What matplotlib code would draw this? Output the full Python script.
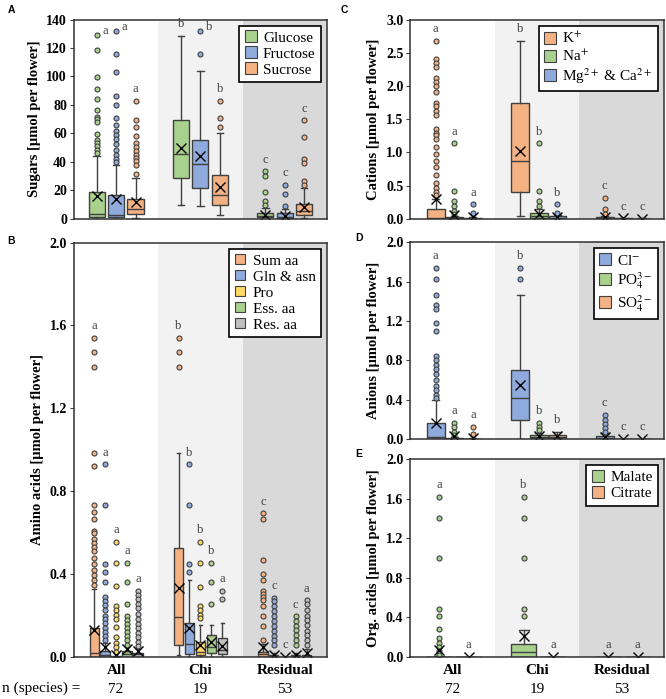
import matplotlib.pyplot as plt
from matplotlib.lines import Line2D

plt.rcParams['font.family'] = 'Liberation Serif'
plt.rcParams['mathtext.fontset'] = 'stix'

GREEN = '#a9d18e'
BLUE = '#8faadc'
ORANGE = '#f4b183'
YELLOW = '#ffd966'
GREY = '#bfbfbf'
EDGE = '#404040'

groups = ["All", "Chi", "Residual"]
n_species = [72, 19, 53]

# ---- A: sugars  (each list: [series][group All, Chi, Residual])
sugar_names = ["Glucose", "Fructose", "Sucrose"]
sugar_q1 = [[1.4, 29, 1.0], [1.4, 21.5, 0.5], [3.5, 9.4, 3.0]]
sugar_med = [[3.7, 45.2, 2.3], [3.0, 38.2, 1.4], [7.0, 16.6, 5.4]]
sugar_q3 = [[18.7, 69.3, 4.2], [17.0, 55.7, 4.0], [14.0, 30.7, 10.5]]
sugar_lo = [[0, 9.6, 0], [0, 8.9, 0], [0.5, 3.0, 0.5]]
sugar_hi = [[44, 128.8, 7.5], [38, 103.7, 7.0], [28.8, 60, 21.8]]
sugar_mean = [[16, 49.9, 3.0], [14, 44, 2.3], [12, 22.2, 8.4]]
sugar_fliers = [
    [[129, 118.4, 99.7, 91.2, 84.5, 76.6, 71.6, 70.0, 67.9, 59.7, 55.7, 53.4, 51, 48.2, 45.9],
     [], [33.5, 30, 19, 12.6, 9.6]],
    [[131.8, 115.9, 103, 86.2, 80.3, 70.9, 65.8, 62, 59.2, 56.2, 52.9, 48.2, 45, 42.1, 40],
     [131.8, 115.9], [23.9, 17.1, 8.9]],
    [[83.1, 69.3, 64.4, 58, 53, 50.3, 47.5, 45, 42.4, 40.3, 37.7, 31.8],
     [83, 71, 64.4], [69.3, 57.4, 41.7, 39.3, 26.9, 23.6]],
]
sugar_letters = [["a", "b", "c"], ["a", "b", "c"], ["a", "b", "c"]]

# ---- B: amino acids
aa_names = ["Sum aa", "Gln & asn", "Pro", "Ess. aa", "Res. aa"]
aa_q1 = [[0, 0.056, 0], [0, 0.016, 0], [0, 0.008, 0], [0, 0.02, 0], [0, 0.016, 0]]
aa_med = [[0.02, 0.193, 0.013], [0.01, 0.065, 0.004], [0, 0.025, 0], [0.013, 0.048, 0.003], [0.013, 0.035, 0.005]]
aa_q3 = [[0.14, 0.528, 0.024], [0.03, 0.165, 0.01], [0.005, 0.072, 0.002], [0.027, 0.105, 0.008], [0.02, 0.092, 0.012]]
aa_lo = [[0, 0.008, 0], [0, 0, 0], [0, 0, 0], [0, 0, 0], [0, 0, 0]]
aa_hi = [[0.33, 0.985, 0.065], [0.07, 0.37, 0.02], [0.005, 0.153, 0.002], [0.05, 0.153, 0.02], [0.04, 0.165, 0.04]]
aa_mean = [[0.13, 0.335, 0.048], [0.05, 0.14, 0.012], [0.01, 0.056, 0.002], [0.04, 0.072, 0.012], [0.03, 0.053, 0.02]]
aa_fliers = [
    [[1.54, 1.47, 1.40, 0.985, 0.92, 0.735, 0.70, 0.665, 0.61, 0.60, 0.57, 0.55, 0.53, 0.51, 0.48,
      0.45, 0.42, 0.395, 0.37, 0.35],
     [1.54, 1.47, 1.40],
     [0.694, 0.665, 0.47, 0.40, 0.37, 0.32, 0.306, 0.29, 0.277, 0.245, 0.20, 0.148, 0.08]],
    [[0.93, 0.735, 0.45, 0.41, 0.36, 0.29, 0.27, 0.25, 0.225, 0.20, 0.185, 0.165, 0.14, 0.12, 0.10, 0.08],
     [0.93, 0.735, 0.45, 0.41],
     [0.287, 0.27, 0.245, 0.222, 0.196, 0.174, 0.148, 0.126, 0.10, 0.08, 0.06]],
    [[0.555, 0.455, 0.345, 0.245, 0.225, 0.205, 0.185, 0.145, 0.095, 0.07, 0.05, 0.025],
     [0.555, 0.455, 0.34, 0.245, 0.225, 0.205, 0.19],
     []],
    [[0.455, 0.36, 0.255, 0.20, 0.18, 0.16, 0.14, 0.12, 0.10, 0.08, 0.06],
     [0.455, 0.36, 0.255],
     [0.196, 0.174, 0.148, 0.129, 0.105, 0.08, 0.06]],
    [[0.32, 0.30, 0.28, 0.255, 0.235, 0.21, 0.185, 0.16, 0.14, 0.118, 0.097, 0.072, 0.052],
     [0.32, 0.28],
     [0.274, 0.255, 0.229, 0.20, 0.177, 0.153, 0.126, 0.105, 0.08, 0.06]],
]
aa_letters = [["a", "b", "c"], ["a", "b", "c"], ["a", "b", "c"], ["a", "b", "c"], ["a", "a", "a"]]

# ---- C: cations
cat_names = ["K$^{+}$", "Na$^{+}$", "Mg$^{2+}$ & Ca$^{2+}$"]
cat_q1 = [[0, 0.41, 0], [0, 0.015, 0], [0, 0, 0]]
cat_med = [[0.005, 0.865, 0.01], [0.005, 0.04, 0.002], [0.003, 0.005, 0.001]]
cat_q3 = [[0.15, 1.745, 0.02], [0.02, 0.09, 0.005], [0.01, 0.04, 0.003]]
cat_lo = [[0, 0.04, 0], [0, 0, 0], [0, 0, 0]]
cat_hi = [[0.3, 2.68, 0.04], [0.04, 0.14, 0.01], [0.02, 0.05, 0.005]]
cat_mean = [[0.3, 1.02, 0.03], [0.05, 0.065, 0.005], [0.02, 0.02, 0.003]]
cat_fliers = [
    [[2.68, 2.40, 2.34, 2.29, 2.12, 2.06, 2.0, 1.91, 1.75, 1.70, 1.63, 1.56, 1.355, 1.295, 1.255, 1.2,
      1.08, 0.98, 0.865, 0.774, 0.66, 0.546, 0.47, 0.405, 0.354],
     [], [0.32, 0.14, 0.066]],
    [[1.14, 0.42, 0.27, 0.19, 0.116, 0.066], [1.14, 0.42, 0.27, 0.19], []],
    [[0.217, 0.09], [0.217, 0.09], []],
]
cat_letters = [["a", "b", "c"], ["a", "b", "c"], ["a", "b", "c"]]

# ---- D: anions
an_names = ["Cl$^{-}$", "PO$_4^{3-}$", "SO$_4^{2-}$"]
an_q1 = [[0, 0.196, 0], [0, 0.01, 0], [0, 0.01, 0]]
an_med = [[0.02, 0.423, 0.01], [0.003, 0.027, 0.001], [0, 0.027, 0.001]]
an_q3 = [[0.17, 0.704, 0.034], [0.01, 0.044, 0.003], [0.005, 0.044, 0.002]]
an_lo = [[0, 0, 0], [0, 0, 0], [0, 0, 0]]
an_hi = [[0.40, 1.465, 0.06], [0.02, 0.06, 0.005], [0.01, 0.078, 0.004]]
an_mean = [[0.17, 0.55, 0.025], [0.03, 0.035, 0.003], [0.015, 0.035, 0.003]]
an_fliers = [
    [[1.74, 1.63, 1.46, 1.36, 1.32, 1.18, 1.10, 0.846, 0.805, 0.755, 0.71, 0.66, 0.60, 0.545, 0.50,
      0.45, 0.416],
     [1.74, 1.63], [0.247, 0.2, 0.156, 0.11, 0.07]],
    [[0.17, 0.13, 0.078, 0.044], [0.17, 0.13, 0.09], []],
    [[0.13, 0.054], [], []],
]
an_letters = [["a", "b", "c"], ["a", "b", "c"], ["a", "b", "c"]]

# ---- E: organic acids
org_names = ["Malate", "Citrate"]
org_q1 = [[0, 0, 0], [0, 0, 0]]
org_med = [[0, 0.054, 0], [0, 0, 0]]
org_q3 = [[0.005, 0.13, 0.001], [0.002, 0.002, 0.002]]
org_lo = [[0, 0, 0], [0, 0, 0]]
org_hi = [[0.01, 0.275, 0.002], [0.003, 0.003, 0.003]]
org_mean = [[0.074, 0.21, 0.003], [0.002, 0.002, 0.002]]
org_fliers = [
    [[1.62, 1.41, 1.0, 0.487, 0.416, 0.285, 0.19, 0.14, 0.10, 0.057, 0.023],
     [1.62, 1.41, 1.0, 0.487, 0.416], []],
    [[], [], []],
]
org_letters = [["a", "b", "a"], ["a", "a", "a"]]


def draw_panel(ax, names, colors, q1, med, q3, lo, hi, mean, fliers, letters,
               offsets, width, ymax, step, fmt, ylabel, leg_ms):
    ax.axvspan(1, 2, color='#f2f2f2', zorder=0, lw=0)
    ax.axvspan(2, 3, color='#d9d9d9', zorder=0, lw=0)
    for i, name in enumerate(names):
        stats = []
        for g in range(3):
            stats.append(dict(q1=q1[i][g], med=med[i][g], q3=q3[i][g],
                              whislo=lo[i][g], whishi=hi[i][g], mean=mean[i][g],
                              fliers=fliers[i][g]))
        pos = [g + 0.5 + offsets[i] for g in range(3)]
        ax.bxp(stats, positions=pos, widths=width, patch_artist=True,
               showmeans=True, manage_ticks=False, capwidths=width * 0.4,
               boxprops=dict(facecolor=colors[i], edgecolor=EDGE, linewidth=1),
               medianprops=dict(color=EDGE, linewidth=1),
               whiskerprops=dict(color=EDGE, linewidth=1),
               capprops=dict(color=EDGE, linewidth=1),
               flierprops=dict(marker='o', markerfacecolor=colors[i], markeredgecolor=EDGE,
                               markersize=3.6, markeredgewidth=0.8),
               meanprops=dict(marker='x', markeredgecolor='black', markersize=7,
                              markeredgewidth=1))
        for g in range(3):
            fl = fliers[i][g]
            top = max([hi[i][g], q3[i][g], mean[i][g]] + fl)
            if fl and max(fl) > 0.9 * ymax:
                ax.annotate(letters[i][g], (pos[g], top), xytext=(4, 3),
                            textcoords='offset points', ha='left', va='center',
                            fontsize=9, color=EDGE)
            else:
                ax.annotate(letters[i][g], (pos[g], top), xytext=(0, 4),
                            textcoords='offset points', ha='center', va='bottom',
                            fontsize=9, color=EDGE)
    ax.set_xlim(0, 3)
    ax.set_ylim(0, ymax)
    ticks = [k * step for k in range(int(round(ymax / step)) + 1)]
    ax.set_yticks(ticks, [fmt.format(t) for t in ticks], fontweight='bold', fontsize=10)
    ax.set_xticks([])
    ax.tick_params(axis='y', length=3, width=0.8, color=EDGE, pad=2)
    ax.set_ylabel(ylabel, fontweight='bold', fontsize=10.5, labelpad=4)
    for s in ax.spines.values():
        s.set_color('#303030')
        s.set_linewidth(1.1)
    handles = [Line2D([], [], ls='', marker='s', markersize=leg_ms, markerfacecolor=c,
                      markeredgecolor=EDGE, markeredgewidth=0.8) for c in colors]
    leg = ax.legend(handles, names, loc='upper right', fontsize=11, frameon=True,
                    fancybox=False, framealpha=1, edgecolor='black', handlelength=0.8,
                    handletextpad=0.4, labelspacing=0.15, borderpad=0.35,
                    borderaxespad=0.4)
    leg.get_frame().set_linewidth(1.2)


def group_labels(ax):
    ax.set_xticks([0.5, 1.5, 2.5], groups, fontweight='bold', fontsize=11)
    ax.tick_params(axis='x', length=0, pad=5)
    for g in range(3):
        ax.annotate(str(n_species[g]), (g + 0.5, 0), xycoords=('data', 'axes fraction'),
                    xytext=(0, -23), textcoords='offset points', ha='center', va='center',
                    fontsize=11)


fig = plt.figure(figsize=(6.66, 6.99), dpi=100)
axA = fig.add_axes([0.111, 0.687, 0.380, 0.285])
axB = fig.add_axes([0.111, 0.060, 0.380, 0.593])
axC = fig.add_axes([0.616, 0.687, 0.381, 0.285])
axD = fig.add_axes([0.616, 0.3715, 0.381, 0.282])
axE = fig.add_axes([0.616, 0.060, 0.381, 0.283])

draw_panel(axA, sugar_names, [GREEN, BLUE, ORANGE], sugar_q1, sugar_med, sugar_q3, sugar_lo,
           sugar_hi, sugar_mean, sugar_fliers, sugar_letters, [-0.23, 0, 0.23], 0.19,
           140, 20, "{:.0f}", "Sugars [µmol per flower]", 9)
draw_panel(axB, aa_names, [ORANGE, BLUE, YELLOW, GREEN, GREY], aa_q1, aa_med, aa_q3, aa_lo,
           aa_hi, aa_mean, aa_fliers, aa_letters, [-0.26, -0.13, 0, 0.13, 0.26], 0.11,
           2.0, 0.4, "{:.1f}", "Amino acids [µmol per flower]", 7)
draw_panel(axC, cat_names, [ORANGE, GREEN, BLUE], cat_q1, cat_med, cat_q3, cat_lo,
           cat_hi, cat_mean, cat_fliers, cat_letters, [-0.2, 0.02, 0.24], 0.21,
           3.0, 0.5, "{:.1f}", "Cations [µmol per flower]", 8)
draw_panel(axD, an_names, [BLUE, GREEN, ORANGE], an_q1, an_med, an_q3, an_lo,
           an_hi, an_mean, an_fliers, an_letters, [-0.2, 0.02, 0.24], 0.21,
           2.0, 0.4, "{:.1f}", "Anions [µmol per flower]", 8)
draw_panel(axE, org_names, [GREEN, ORANGE], org_q1, org_med, org_q3, org_lo,
           org_hi, org_mean, org_fliers, org_letters, [-0.16, 0.19], 0.3,
           2.0, 0.4, "{:.1f}", "Org. acids [µmol per flower]", 8)

group_labels(axB)
group_labels(axE)
fig.text(0.003, 0.0155, "n (species) =", fontsize=11, ha='left', va='center')

for lab, x, y in [("A", 0.011, 0.985), ("B", 0.011, 0.655), ("C", 0.511, 0.985),
                  ("D", 0.534, 0.660), ("E", 0.534, 0.350)]:
    fig.text(x, y, lab, family='Liberation Sans', fontweight='bold', fontsize=7.5,
             ha='left', va='center')

fig.savefig("out.png", dpi=100)
